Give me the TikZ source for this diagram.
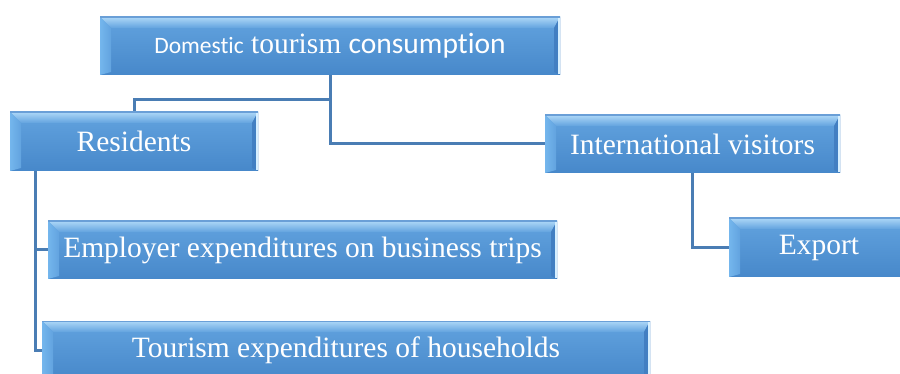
\documentclass[tikz,border=0pt]{standalone}
\usepackage{fontspec}
\setmainfont{Liberation Serif}
\newfontfamily\calfont[Ligatures={NoCommon}]{Carlito}
\usetikzlibrary{calc,backgrounds}

\definecolor{boxtop}{HTML}{62A3DF}
\definecolor{boxbot}{HTML}{4788CA}
\definecolor{bevlight}{HTML}{ADD7F7}
\definecolor{bevleft}{HTML}{74B6ED}
\definecolor{bevright}{HTML}{427FC2}
\definecolor{edgehi}{HTML}{D6EFFF}
\definecolor{rimblue}{HTML}{6A9FD7}
\definecolor{linkblue}{HTML}{4A7DB4}

\tikzset{
  bevelbox/.style={
    rectangle, inner sep=0pt, minimum height=58pt,
    text=white, font=\fontsize{29.5}{32}\selectfont,
    top color=boxtop, bottom color=boxbot,
    path picture={
      \coordinate (pNW) at (path picture bounding box.north west);
      \coordinate (pNE) at (path picture bounding box.north east);
      \coordinate (pSW) at (path picture bounding box.south west);
      \coordinate (pSE) at (path picture bounding box.south east);
      % upper bevel
      \shade[top color=bevlight, bottom color=boxtop]
        (pNW) -- (pNE) -- ($(pNE)+(-6pt,-11pt)$) -- ($(pNW)+(11pt,-11pt)$) -- cycle;
      % left bevel
      \shade[left color=bevleft, right color=boxtop]
        (pNW) -- ($(pNW)+(11pt,-11pt)$) -- ($(pSW)+(11pt,3pt)$) -- (pSW) -- cycle;
      % right bevel with a bright rim
      \fill[bevright]
        (pNE) -- (pSE) -- ($(pSE)+(-6pt,3pt)$) -- ($(pNE)+(-6pt,-11pt)$) -- cycle;
      \fill[edgehi] ($(pNE)+(-1.6pt,-1pt)$) rectangle ($(pSE)+(0pt,1pt)$);
      % thin rim along the top edge
      \draw[rimblue, line width=1.2pt] (pNW) -- (pNE);
    }
  },
  link/.style={draw=linkblue, line width=3pt, line join=miter}
}

\begin{document}
\begin{tikzpicture}[x=1pt, y=-1pt]
  \useasboundingbox (0,0) rectangle (900,374);

  % boxes
  \node[bevelbox, minimum width=460pt] (dom) at (330,46)
    {{\calfont\fontsize{23.5}{28}\selectfont Domestic} tourism {\calfont consumption}};
  \node[bevelbox, minimum width=248pt, minimum height=59pt] (res) at (134,141.5) {Residents};
  \node[bevelbox, minimum width=295pt] (intl) at (692.5,144) {International visitors};
  \node[bevelbox, minimum width=180pt, minimum height=59pt] (exp) at (819,247.5) {Export};
  \node[bevelbox, minimum width=509pt] (emp) at (302.5,250) {Employer expenditures on business trips};
  \node[bevelbox, minimum width=608pt] (hh) at (346,350) {Tourism expenditures of households};

  % connectors
  \coordinate (split) at (330,100);
  \coordinate (rs) at ($(res.south west)+(26pt,0pt)$);
  \begin{scope}[on background layer]
    \draw[link] (dom.south) -- (split) -| (res.north);
    \draw[link] (split) |- (intl.west);
    \draw[link] (rs) |- (hh.west);
    \draw[link] (emp.west) -- (emp.west -| rs);
    \draw[link] (intl.south) |- (exp.west);
  \end{scope}
\end{tikzpicture}
\end{document}
